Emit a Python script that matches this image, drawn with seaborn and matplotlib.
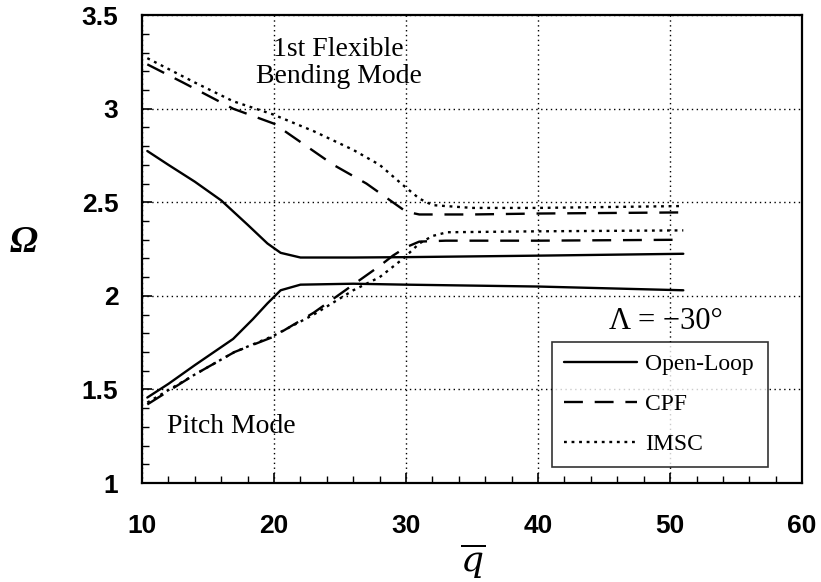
import numpy as np
import pandas as pd
import matplotlib
matplotlib.use("Agg")
import matplotlib.pyplot as plt
import seaborn as sns
from matplotlib.ticker import MultipleLocator

sns.set_theme(style="white")
plt.rcParams['font.family'] = ['Liberation Serif', 'DejaVu Serif']
plt.rcParams['mathtext.fontset'] = 'dejavuserif'

# ---- data ----
q_ol_bend = [10.4, 12, 14, 16, 18, 19.5, 20.5, 22, 26, 30, 40, 51]
ol_bend = [2.774, 2.70, 2.61, 2.51, 2.38, 2.28, 2.23, 2.205, 2.205, 2.207, 2.215, 2.225]

q_ol_pitch = [10.4, 12, 14, 16.9, 18.4, 19.5, 20.5, 22, 26, 30, 40, 51]
ol_pitch = [1.457, 1.53, 1.63, 1.77, 1.876, 1.96, 2.03, 2.06, 2.065, 2.06, 2.05, 2.03]

q_cpf_bend = [10.4, 13.1, 16.9, 20, 24.5, 27, 29, 30, 31, 35, 40, 51]
cpf_bend = [3.237, 3.14, 3.0, 2.92, 2.70, 2.60, 2.50, 2.45, 2.435, 2.435, 2.44, 2.446]

q_cpf_pitch = [10.4, 14, 17, 19.9, 23, 25.8, 28, 29, 30, 31, 33, 40, 51]
cpf_pitch = [1.42, 1.58, 1.70, 1.78, 1.91, 2.05, 2.16, 2.215, 2.26, 2.29, 2.295, 2.295, 2.30]

q_imsc_bend = [10.4, 14, 16.9, 19.9, 23, 26, 28, 29.8, 31, 32, 35, 40, 51]
imsc_bend = [3.27, 3.14, 3.04, 2.97, 2.88, 2.78, 2.70, 2.59, 2.52, 2.485, 2.47, 2.47, 2.48]

q_imsc_pitch = [10.4, 14, 17, 19.9, 23, 26, 28, 29.8, 31, 32, 33.1, 40, 51]
imsc_pitch = [1.43, 1.58, 1.70, 1.785, 1.90, 2.03, 2.10, 2.20, 2.28, 2.32, 2.34, 2.345, 2.35]

x_ticks = [10, 20, 30, 40, 50, 60]
y_ticks = [1, 1.5, 2, 2.5, 3, 3.5]
y_tick_labels = ["1", "1.5", "2", "2.5", "3", "3.5"]
legend_labels = ["Open-Loop", "CPF", "IMSC"]

fig = plt.figure(figsize=(8.21, 5.82), dpi=100)
ax = fig.add_axes([0.173, 0.170, 0.804, 0.804])

styles = {
    "Open-Loop": "-",
    "CPF": (0, (8, 5)),
    "IMSC": (0, (1.2, 2.0)),
}
series = [
    ("Open-Loop", q_ol_bend, ol_bend),
    ("Open-Loop", q_ol_pitch, ol_pitch),
    ("CPF", q_cpf_bend, cpf_bend),
    ("CPF", q_cpf_pitch, cpf_pitch),
    ("IMSC", q_imsc_bend, imsc_bend),
    ("IMSC", q_imsc_pitch, imsc_pitch),
]
lines_for_legend = {}
for name, qx, yy in series:
    df = pd.DataFrame({"q": qx, "Omega": yy})
    sns.lineplot(data=df, x="q", y="Omega", ax=ax, color="black",
                 linewidth=1.7, linestyle=styles[name], sort=False, estimator=None)
    lines_for_legend[name] = ax.lines[-1]

ax.set_xlim(10, 60)
ax.set_ylim(1, 3.5)
ax.set_xticks(x_ticks)
ax.set_yticks(y_ticks)
ax.set_yticklabels(y_tick_labels)
ax.xaxis.set_minor_locator(MultipleLocator(2))
ax.yaxis.set_minor_locator(MultipleLocator(0.1))
ax.tick_params(which="both", direction="in", color="black", top=False, right=False,
               left=True, bottom=True)
ax.tick_params(which="major", length=7, width=1.2)
ax.tick_params(which="minor", length=5, width=1.0)
ax.tick_params(axis="x", which="major", pad=22)
ax.tick_params(axis="y", which="major", pad=17)
for lbl in ax.get_xticklabels() + ax.get_yticklabels():
    lbl.set_fontfamily("Liberation Sans")
    lbl.set_fontweight("bold")
    lbl.set_fontsize(19)
    lbl.set_color("black")
ax.grid(True, which="major", linestyle=(0, (1, 2.5)), color="black", linewidth=1.0)
for sp in ax.spines.values():
    sp.set_color("black")
    sp.set_linewidth(1.6)

ax.set_xlabel(r"$\overline{q}$", fontsize=26, color="black")
ax.xaxis.set_label_coords(0.5, -0.125)
ax.set_ylabel("Ω", fontsize=27, color="black", rotation=0, fontstyle="italic",
              fontweight="bold", va="center", ha="center")
ax.yaxis.set_label_coords(-0.179, 0.515)

ax.text(24.9, 3.245, "1st Flexible\nBending Mode", ha="center", va="center",
        fontsize=20, color="black", linespacing=1.08)
ax.text(16.8, 1.30, "Pitch Mode", ha="center", va="center", fontsize=20, color="black")
ax.text(49.7, 1.865, "Λ = −30°", ha="center", va="center", fontsize=22, color="black")

leg = ax.legend([lines_for_legend[n] for n in legend_labels], legend_labels,
                loc="lower left", bbox_to_anchor=(0.621, 0.034, 0.327, 0.267),
                mode="expand", fontsize=17, frameon=True, fancybox=False,
                edgecolor="black", handlelength=3.1, handletextpad=0.35,
                borderpad=0.5, labelspacing=0.78, borderaxespad=0)
leg.get_frame().set_linewidth(1.2)
for t in leg.get_texts():
    t.set_color("black")

fig.savefig("out.png", dpi=100)
